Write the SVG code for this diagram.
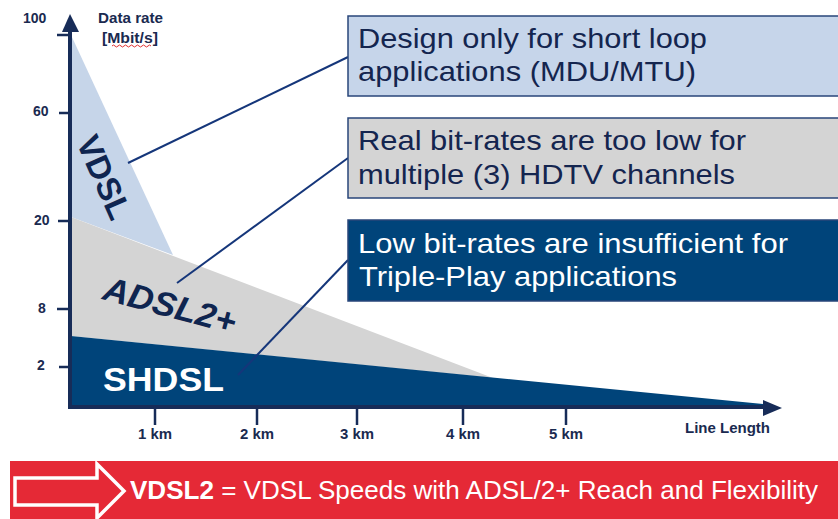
<svg xmlns="http://www.w3.org/2000/svg" width="838" height="519" viewBox="0 0 838 519">
<style>
  .ax { stroke:#172c58; stroke-width:4; fill:none; }
  .tick { stroke:#172c58; stroke-width:2.5; }
  .lbl { font-family:"Liberation Sans", Arial, sans-serif; font-weight:bold; font-size:14px; fill:#1a2a50; }
  .km { font-family:"Liberation Sans", Arial, sans-serif; font-weight:bold; font-size:14.5px; fill:#1a2a50; }
  .box { stroke:#28457a; stroke-width:1.5; }
  .btxt { font-family:"Liberation Sans", Arial, sans-serif; font-size:28px; fill:#14254f; }
  .wtxt { font-family:"Liberation Sans", Arial, sans-serif; font-size:28px; fill:#ffffff; }
  .conn { stroke:#15367a; stroke-width:2; fill:none; }
  .big { font-family:"Liberation Sans", Arial, sans-serif; font-weight:bold; }
</style>
<rect width="838" height="519" fill="#ffffff"/>

<g id="region-vdsl">
  <polygon points="71,35 173,255 71,217" fill="#c6d5e9"/>
  <text class="big" font-size="33" fill="#0f2550" text-anchor="middle" transform="translate(104.5,177) rotate(66)" y="12">VDSL</text>
</g>
<g id="region-adsl2plus">
  <polygon points="71,217 493,378 71,336" fill="#d4d4d4"/>
  <text class="big" font-size="34" font-style="italic" fill="#0f2550" text-anchor="middle" transform="translate(170,305) rotate(15)" y="12" textLength="136" lengthAdjust="spacingAndGlyphs">ADSL2+</text>
</g>
<g id="region-shdsl">
  <polygon points="71,336 763,404 763,408 71,408" fill="#00447a"/>
  <text class="big" font-size="34" fill="#ffffff" x="103" y="391" textLength="121" lengthAdjust="spacingAndGlyphs">SHDSL</text>
</g>

<g id="axes">
  <line class="ax" x1="70" y1="408" x2="70" y2="30"/>
  <polygon points="70,14 62,32 79,32" fill="#172c58"/>
  <line class="ax" x1="68" y1="407" x2="765" y2="407"/>
  <polygon points="782,408 763,400 763,416" fill="#172c58"/>
  <line class="tick" x1="57" y1="35" x2="70" y2="35"/>
  <line class="tick" x1="59" y1="113" x2="70" y2="113"/>
  <line class="tick" x1="58" y1="221" x2="70" y2="221"/>
  <line class="tick" x1="57" y1="309" x2="70" y2="309"/>
  <line class="tick" x1="59" y1="367" x2="70" y2="367"/>
  <line class="tick" x1="155" y1="408" x2="155" y2="425"/>
  <line class="tick" x1="257" y1="408" x2="257" y2="425"/>
  <line class="tick" x1="357" y1="408" x2="357" y2="425"/>
  <line class="tick" x1="463" y1="408" x2="463" y2="425"/>
  <line class="tick" x1="566" y1="408" x2="566" y2="425"/>
  <text class="lbl" x="23" y="23">100</text>
  <text class="lbl" x="33" y="116">60</text>
  <text class="lbl" x="34" y="225">20</text>
  <text class="lbl" x="38" y="313">8</text>
  <text class="lbl" x="37" y="370">2</text>
  <text class="lbl" x="98" y="23" textLength="65" lengthAdjust="spacingAndGlyphs">Data rate</text>
  <text class="lbl" x="102" y="43" textLength="56" lengthAdjust="spacingAndGlyphs">[Mbit/s]</text>
  <path d="M112,46 q1.5,-2 3,0 t3,0 t3,0 t3,0 t3,0 t3,0 t3,0 t3,0 t3,0 t3,0 t3,0 t3,0 t3,0" stroke="#e03030" stroke-width="1" fill="none"/>
  <text class="km" x="155" y="439" text-anchor="middle" textLength="34" lengthAdjust="spacingAndGlyphs">1 km</text>
  <text class="km" x="257" y="439" text-anchor="middle" textLength="34" lengthAdjust="spacingAndGlyphs">2 km</text>
  <text class="km" x="357" y="439" text-anchor="middle" textLength="34" lengthAdjust="spacingAndGlyphs">3 km</text>
  <text class="km" x="463" y="439" text-anchor="middle" textLength="34" lengthAdjust="spacingAndGlyphs">4 km</text>
  <text class="km" x="566" y="439" text-anchor="middle" textLength="34" lengthAdjust="spacingAndGlyphs">5 km</text>
  <text class="lbl" x="685" y="433" font-size="15" textLength="85" lengthAdjust="spacingAndGlyphs">Line Length</text>
</g>

<g id="connectors">
  <line class="conn" x1="128" y1="163" x2="348" y2="57"/>
  <line class="conn" x1="177" y1="283" x2="348" y2="158"/>
  <line class="conn" x1="238" y1="375" x2="348" y2="260"/>
</g>

<g id="callout-short-loop">
  <rect class="box" x="348" y="16" width="500" height="80" fill="#c6d5ea"/>
  <text class="btxt" x="358" y="48" textLength="349" lengthAdjust="spacingAndGlyphs">Design only for short loop</text>
  <text class="btxt" x="358" y="81" textLength="338" lengthAdjust="spacingAndGlyphs">applications (MDU/MTU)</text>
</g>
<g id="callout-hdtv">
  <rect class="box" x="348" y="118" width="500" height="80" fill="#d4d4d4"/>
  <text class="btxt" x="358" y="150" textLength="388" lengthAdjust="spacingAndGlyphs">Real bit-rates are too low for</text>
  <text class="btxt" x="358" y="184" textLength="377" lengthAdjust="spacingAndGlyphs">multiple (3) HDTV channels</text>
</g>
<g id="callout-triple-play">
  <rect class="box" x="348" y="220" width="500" height="81" fill="#00447a"/>
  <text class="wtxt" x="358" y="253" textLength="430" lengthAdjust="spacingAndGlyphs">Low bit-rates are insufficient for</text>
  <text class="wtxt" x="359" y="286" textLength="318" lengthAdjust="spacingAndGlyphs">Triple-Play applications</text>
</g>

<g id="banner">
  <rect x="10" y="461" width="828" height="58" fill="#e52936"/>
  <path d="M15,478 H97 V464 L124,491 L97,518 V505 H15 Z" fill="none" stroke="#ffffff" stroke-width="3.5" stroke-linejoin="miter"/>
  <text x="130" y="499" font-family="'Liberation Sans', Arial, sans-serif" font-size="26" fill="#ffffff" textLength="688" lengthAdjust="spacingAndGlyphs"><tspan font-weight="bold">VDSL2</tspan> = VDSL Speeds with ADSL/2+ Reach and Flexibility</text>
</g>
</svg>
